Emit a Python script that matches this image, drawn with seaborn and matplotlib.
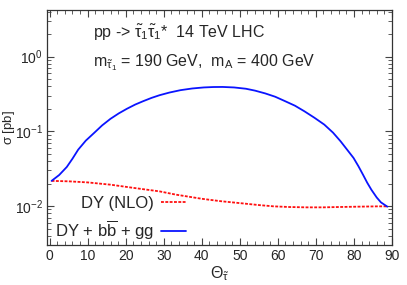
import numpy as np
import pandas as pd
import matplotlib
matplotlib.use("Agg")
import matplotlib.pyplot as plt
import seaborn as sns
from matplotlib.ticker import MultipleLocator, LogLocator, NullFormatter

# values
theta_full = [0.5, 2.5, 4.5, 6.0, 7.5, 9.5, 11.7, 13.8, 16.0, 18.2, 20.3, 22.5, 24.6, 26.8,
              28.9, 31.5, 34.4, 37.5, 40.5, 43.0, 45.5, 48.5, 51.6, 54.0, 56.7, 59.3, 61.9,
              64.5, 67.0, 69.6, 72.2, 74.5, 76.5, 78.3, 79.9, 81.2, 82.4, 83.5, 84.6,
              86.0, 87.1, 88.8]
sigma_full = [0.0217, 0.026, 0.0333, 0.043, 0.0568, 0.075, 0.0952, 0.120, 0.147, 0.174,
              0.200, 0.228, 0.253, 0.280, 0.304, 0.330, 0.355, 0.374, 0.386, 0.391,
              0.392, 0.386, 0.371, 0.350, 0.321, 0.290, 0.253, 0.220, 0.185, 0.152,
              0.123, 0.096, 0.0734, 0.056, 0.044, 0.034, 0.0262, 0.0205, 0.0165,
              0.0130, 0.0112, 0.0098]

theta_dy = [0.5, 5, 10, 16, 22, 28.9, 33.2, 40, 45, 50.3, 55, 58.9, 63, 67.5, 72, 76, 81, 86.3, 88.8]
sigma_dy = [0.0217, 0.0214, 0.0207, 0.0193, 0.0175, 0.0157, 0.0142, 0.0125, 0.0116, 0.0109,
            0.0103, 0.0099, 0.0097, 0.0096, 0.0096, 0.0097, 0.0098, 0.0099, 0.0099]

df_full = pd.DataFrame({"theta": theta_full, "sigma": sigma_full})
df_dy = pd.DataFrame({"theta": theta_dy, "sigma": sigma_dy})

sns.set_style("ticks")
plt.rcParams["font.family"] = ["Liberation Sans", "DejaVu Sans"]
plt.rcParams["mathtext.fontset"] = "custom"
plt.rcParams["mathtext.rm"] = "Liberation Sans"
plt.rcParams["mathtext.it"] = "Liberation Sans"

fig = plt.figure(figsize=(4.07, 2.85), dpi=100)
ax = fig.add_axes([0.1155, 0.14, 0.8475, 0.825])

sns.lineplot(data=df_dy, x="theta", y="sigma", ax=ax, color="#ff1010", lw=1.3,
             linestyle=(0, (1.6, 0.8)), label="DY (NLO)")
sns.lineplot(data=df_full, x="theta", y="sigma", ax=ax, color="#0a14ff", lw=1.3,
             label=r"DY + b$\overline{\mathrm{b}}$ + gg")

ax.set_yscale("log")
ax.set_xlim(-0.7, 90)
ax.set_ylim(0.003, 4.2)
ax.xaxis.set_major_locator(MultipleLocator(10))
ax.xaxis.set_minor_locator(MultipleLocator(2))
ax.yaxis.set_major_locator(LogLocator(base=10, numticks=10))
ax.yaxis.set_minor_locator(LogLocator(base=10, subs=np.arange(2, 10), numticks=10))
ax.yaxis.set_minor_formatter(NullFormatter())
ax.tick_params(which="both", direction="in", top=True, right=True, labelsize=10, color="#444444")
ax.tick_params(which="major", length=5, pad=3)
ax.tick_params(which="minor", length=3)
for s in ax.spines.values():
    s.set_linewidth(0.9)
    s.set_color("#333333")

ax.set_xlabel(r"$\Theta_{\tilde{\tau}}$", fontsize=11.5, labelpad=1)
ax.set_ylabel(r"$\sigma$ [pb]", fontsize=9.5, va="center")
ax.yaxis.set_label_coords(-0.11, 0.5)

ax.text(0.133, 0.902, r"pp -> $\tilde{\tau}_1\tilde{\tau}_1$*  14 TeV LHC",
        transform=ax.transAxes, fontsize=11.5, va="center")
ax.text(0.133, 0.775, r"m$_{\tilde{\tau}_1}$ = 190 GeV,  m$_\mathrm{A}$ = 400 GeV",
        transform=ax.transAxes, fontsize=11.5, va="center")

ax.legend(loc="lower left", bbox_to_anchor=(-0.005, -0.03), frameon=False, markerfirst=False,
          fontsize=12, handlelength=1.5, handletextpad=0.4, labelspacing=0.5,
          borderaxespad=0.2)

fig.savefig("out.png", dpi=100)
